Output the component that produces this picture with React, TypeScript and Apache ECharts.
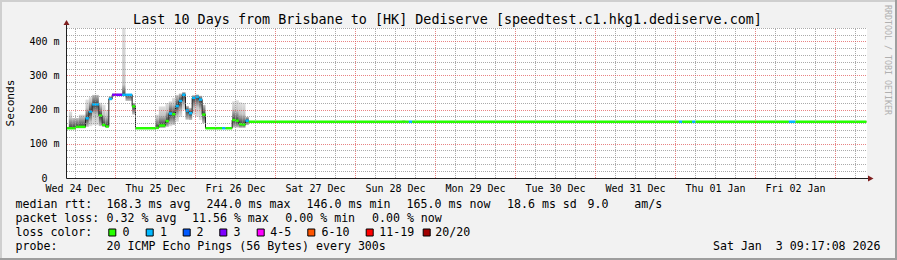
import React, { useEffect, useRef } from 'react';
import * as echarts from 'echarts';

// ---- time frame (hours since Wed 24 Dec 00:00) ----
const START_HOUR = 9 + 17 / 60 + 8 / 3600; // Wed 24 Dec 09:17:08
const END_HOUR = START_HOUR + 240; // Sat 03 Jan 09:17:08
// axis window snapped to the pixel grid (0.5 px shift, keeps the dotted grid crisp)
const AXIS_MIN = 9.45;
const AXIS_MAX = AXIS_MIN + 240;

// ---- axis labels ----
const dayLabels = ['Wed 24 Dec', 'Thu 25 Dec', 'Fri 26 Dec', 'Sat 27 Dec', 'Sun 28 Dec', 'Mon 29 Dec', 'Tue 30 Dec', 'Wed 31 Dec', 'Thu 01 Jan', 'Fri 02 Jan'];
const dayLabelHours = [12, 36, 60, 84, 108, 132, 156, 180, 204, 228];
const yTickValues = [0, 100, 200, 300, 400];
const Y_MAX = 440;

// ---- data segments (start hour; each lasts until the next start) ----
const segStartHours = [START_HOUR, 10, 11, 12, 13, 15, 16, 17, 19, 20, 21, 22, 23, 26, 27, 29, 30, 36, 37, 39, 40, 41, 42, 43, 44, 45, 46, 47, 48, 49, 50, 51, 56, 57, 59, 60, 61, 62, 63, 64, 110, 111, 112, 113, 193, 194, 197, 198, 226, 228];
const medianMs = [146, 146, 146, 150, 150, 175, 195, 216, 183, 156, 151, 232, 244, 244, 244, 210, 146, 147, 154, 167, 189, 187, 211, 226, 244, 198, 190, 235, 238, 230, 186, 146, 146, 146, 170, 168, 158, 157, 168, 165, 165, 165, 165, 165, 165, 165, 165, 165, 165, 165];
const lossLevel = [0, 0, 0, 0, 0, 1, 1, 1, 0, 0, 0, 1, 3, 1, 1, 0, 0, 0, 0, 0, 1, 0, 1, 1, 1, 1, 1, 1, 1, 1, 0, 0, 1, 0, 0, 0, 0, 0, 1, 0, 0, 0, 1, 0, 1, 0, 1, 0, 1, 0];
const smokeLowMs = [145, 145, 145, 146, 146, 150, 152, 155, 152, 150, 148, 228, 243, 240, 226, 186, 145, 146, 147, 150, 152, 155, 165, 180, 200, 171, 170, 185, 180, 170, 160, 145, 145, 145, 148, 148, 147, 147, 155, 165, 165, 165, 165, 165, 165, 165, 165, 165, 165, 165];
const smokeHighMs = [150, 195, 176, 176, 186, 230, 238, 244, 221, 215, 200, 240, 248, 460, 247, 220, 147, 186, 210, 220, 225, 235, 244, 248, 252, 212, 206, 243, 245, 242, 215, 147, 147, 147, 225, 228, 222, 220, 180, 165, 169, 165, 165, 165, 165, 165, 165, 165, 165, 165];

// ---- legend ----
const lossColors = ['#26ff00', '#00b8ff', '#0059ff', '#7e00ff', '#ff00ff', '#ff5500', '#ff0000', '#a10000'];
const lossLabels = ['0', '1', '2', '3', '4-5', '6-10', '11-19', '20/20'];
const rttValues = [168.3, 244.0, 146.0, 165.0];
const rttNames = ['avg', 'max', 'min', 'now'];
const rttSd = 18.6;
const rttAmS = 9.0;
const lossValues = [0.32, 11.56, 0.0, 0.0];
const probeText = '20 ICMP Echo Pings (56 Bytes) every 300s';
const stampText = 'Sat Jan\u00a0\u00a03 09:17:08 2026';
const titleText = 'Last 10 Days from Brisbane to [HK] Dediserve [speedtest.c1.hkg1.dediserve.com]';

const FONT = '"DejaVu Sans Mono", monospace';
const GRID_MINOR = 'rgba(143,143,143,0.75)';
const GRID_MAJOR = 'rgba(222,79,79,0.7)';
const CORE_MS = 30;

export default function App() {
  const ref = useRef<HTMLDivElement>(null);

  useEffect(() => {
    const chart = echarts.init(ref.current!, null, { renderer: 'svg' });

    const n = segStartHours.length;
    const segEnd = (i: number) => (i + 1 < n ? segStartHours[i + 1] : END_HOUR);

    const smokeData = segStartHours.map((s, i) => [s, segEnd(i), smokeLowMs[i], smokeHighMs[i], medianMs[i]]);
    const medSegData = segStartHours.map((s, i) => [s, segEnd(i), medianMs[i], lossLevel[i]]);
    const stepData = segStartHours.map((s, i) => [s, medianMs[i]]);
    stepData.push([END_HOUR, medianMs[n - 1]]);

    const minorMarks: any[] = [];
    const majorMarks: any[] = [];
    for (let v = 20; v <= Y_MAX; v += 20) {
      (v % 100 === 0 ? majorMarks : minorMarks).push({ yAxis: v });
    }
    for (let h = 12; h < AXIS_MAX; h += 6) {
      (h % 24 === 0 ? majorMarks : minorMarks).push({ xAxis: h });
    }

    const txt = (text: string, x: number, y: number, extra: any = {}) => ({
      type: 'text',
      x,
      y,
      z: 100,
      silent: true,
      style: { text, fill: '#000', fontFamily: FONT, fontSize: 11.6, verticalAlign: 'middle', align: 'left', ...extra },
    });

    const graphics: any[] = [];
    // frame shading
    graphics.push({ type: 'rect', z: 100, silent: true, shape: { x: 0, y: 0, width: 897, height: 2 }, style: { fill: '#cfcfcf' } });
    graphics.push({ type: 'rect', z: 100, silent: true, shape: { x: 0, y: 0, width: 2, height: 260 }, style: { fill: '#cfcfcf' } });
    graphics.push({ type: 'rect', z: 100, silent: true, shape: { x: 0, y: 258, width: 897, height: 2 }, style: { fill: '#9e9e9e' } });
    graphics.push({ type: 'rect', z: 100, silent: true, shape: { x: 895, y: 0, width: 2, height: 260 }, style: { fill: '#9e9e9e' } });
    // axes
    graphics.push({ type: 'line', z: 100, silent: true, shape: { x1: 66.5, y1: 178.5, x2: 869, y2: 178.5 }, style: { stroke: '#1f1f1f', lineWidth: 1 } });
    graphics.push({ type: 'line', z: 100, silent: true, shape: { x1: 66.5, y1: 178.5, x2: 66.5, y2: 24 }, style: { stroke: '#1f1f1f', lineWidth: 1 } });
    graphics.push({ type: 'polygon', z: 101, silent: true, shape: { points: [[868, 175.5], [868, 181.5], [873.5, 178.5]] }, style: { fill: '#7f1f1f' } });
    graphics.push({ type: 'polygon', z: 101, silent: true, shape: { points: [[63.5, 25], [69.5, 25], [66.5, 20]] }, style: { fill: '#7f1f1f' } });
    // title
    graphics.push(txt(titleText, 447.5, 19, { align: 'center', fontSize: 13.4 }));
    // side texts
    graphics.push({ type: 'text', x: 10, y: 103, rotation: Math.PI / 2, z: 100, silent: true, style: { text: 'Seconds', fill: '#000', fontFamily: FONT, fontSize: 11.2, align: 'center', verticalAlign: 'middle' } });
    graphics.push({ type: 'text', x: 888, y: 60, rotation: -Math.PI / 2, z: 100, silent: true, style: { text: 'RRDTOOL / TOBI OETIKER', fill: '#b0b0b0', fontFamily: FONT, fontSize: 8.3, align: 'center', verticalAlign: 'middle' } });

    // legend line 1
    const row1 = 204.3, row2 = 218.3, row3 = 232.3, row4 = 246.3;
    graphics.push(txt('median rtt:', 15.5, row1));
    const rttX = [106.6, 206.6, 306.6, 406.6];
    rttValues.forEach((v, i) => graphics.push(txt(`${v.toFixed(1)} ms ${rttNames[i]}`, rttX[i], row1)));
    graphics.push(txt(`${rttSd.toFixed(1)} ms sd`, 507, row1));
    graphics.push(txt(rttAmS.toFixed(1), 587.6, row1));
    graphics.push(txt('am/s', 634.3, row1));
    // legend line 2
    graphics.push(txt('packet loss:', 15.5, row2));
    const lossX = [106.6, 192, 285.3, 372];
    lossValues.forEach((v, i) => graphics.push(txt(`${v.toFixed(2)} % ${rttNames[i]}`, lossX[i], row2)));
    // legend line 3
    graphics.push(txt('loss color:', 15.5, row3));
    const boxX = [108.3, 145.7, 182.7, 219.3, 256.7, 307.3, 365.7, 422.7];
    const labX = [122.6, 160, 196.6, 233.6, 270.3, 321.6, 379.3, 435.3];
    lossLabels.forEach((l, i) => {
      graphics.push({ type: 'rect', z: 100, silent: true, shape: { x: boxX[i] + 0.5, y: 229, width: 7, height: 7 }, style: { fill: lossColors[i], stroke: '#000', lineWidth: 1 } });
      graphics.push(txt(l, labX[i], row3));
    });
    // legend line 4
    graphics.push(txt('probe:', 15.5, row4));
    graphics.push(txt(probeText, 106.6, row4));
    graphics.push(txt(stampText, 880.5, row4, { align: 'right' }));

    const gridSeries = (name: string, marks: any[], color: string, z: number) => ({
      type: 'line',
      name,
      data: [[AXIS_MIN, 0]],
      symbol: 'none',
      lineStyle: { opacity: 0 },
      silent: true,
      z,
      markLine: {
        silent: true,
        symbol: ['none', 'none'],
        label: { show: false },
        emphasis: { disabled: true },
        animation: false,
        lineStyle: { color, type: [1, 1], width: 1, opacity: 1 },
        data: marks,
      },
    });

    const option: any = {
      animation: false,
      backgroundColor: '#f2f2f2',
      grid: { left: 67, top: 28, width: 800, height: 150, show: true, backgroundColor: '#ffffff', borderWidth: 0, containLabel: false },
      xAxis: {
        type: 'value',
        min: AXIS_MIN,
        max: AXIS_MAX,
        axisLine: { show: false },
        axisTick: { show: false },
        splitLine: { show: false },
        axisLabel: {
          customValues: dayLabelHours,
          formatter: (v: number) => {
            const i = dayLabelHours.indexOf(Math.round(v));
            return i >= 0 ? dayLabels[i] : '';
          },
          color: '#000',
          fontFamily: FONT,
          fontSize: 10,
          lineHeight: 10,
          margin: 5,
        },
      },
      yAxis: {
        type: 'value',
        min: 0,
        max: Y_MAX,
        axisLine: { show: false },
        axisTick: { show: false },
        splitLine: { show: false },
        axisLabel: {
          customValues: yTickValues,
          formatter: (v: number) => (v === 0 ? '0\u00a0\u00a0' : `${v} m`),
          color: '#000',
          fontFamily: FONT,
          fontSize: 10,
          lineHeight: 9,
          margin: 7.5,
        },
      },
      graphic: graphics,
      series: [
        gridSeries('minorGrid', minorMarks, GRID_MINOR, 1),
        gridSeries('majorGrid', majorMarks, GRID_MAJOR, 1),
        {
          type: 'custom',
          name: 'smoke',
          clip: true,
          silent: true,
          z: 2,
          data: smokeData,
          renderItem: (params: any, api: any) => {
            const s = api.value(0), e = api.value(1), lo = api.value(2), hi = api.value(3), med = api.value(4);
            const range = hi - lo;
            if (range < 1) return null;
            const p0 = api.coord([s, hi]);
            const p1 = api.coord([e, lo]);
            const off = (v: number) => Math.max(0, Math.min(1, (hi - v) / range));
            const oTop = off(Math.min(hi, med + CORE_MS));
            const oMed = Math.max(oTop, Math.min(0.985, off(med)));
            const oBot = Math.max(oMed, off(Math.max(lo, med - CORE_MS)));
            const grad = new echarts.graphic.LinearGradient(0, 0, 0, 1, [
              { offset: 0, color: 'rgb(224,224,224)' },
              { offset: oTop, color: 'rgb(196,196,196)' },
              { offset: oMed, color: 'rgb(62,62,62)' },
              { offset: oBot, color: 'rgb(196,196,196)' },
              { offset: 1, color: 'rgb(224,224,224)' },
            ]);
            return { type: 'rect', shape: { x: p0[0], y: p0[1], width: p1[0] - p0[0], height: p1[1] - p0[1] }, style: { fill: grad } };
          },
        },
        {
          type: 'line',
          name: 'median',
          data: stepData,
          step: 'end',
          symbol: 'none',
          silent: true,
          z: 3,
          lineStyle: { color: '#202020', width: 1 },
        },
        {
          type: 'custom',
          name: 'loss',
          clip: true,
          silent: true,
          z: 4,
          data: medSegData,
          renderItem: (params: any, api: any) => {
            const s = api.value(0), e = api.value(1), med = api.value(2), loss = api.value(3);
            const p0 = api.coord([s, med]);
            const p1 = api.coord([e, med]);
            return { type: 'line', shape: { x1: p0[0], y1: p0[1], x2: p1[0], y2: p1[1] }, style: { stroke: lossColors[loss], lineWidth: 2.5 } };
          },
        },
      ],
    };

    chart.setOption(option);
    return () => chart.dispose();
  }, []);

  return <div ref={ref} style={{ position: 'fixed', left: 0, top: 0, width: 897, height: 260 }} />;
}
